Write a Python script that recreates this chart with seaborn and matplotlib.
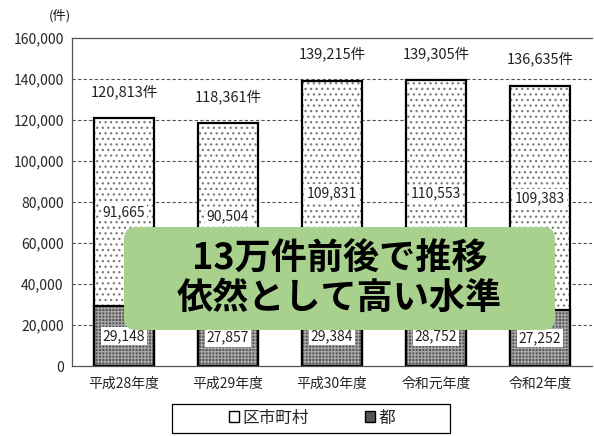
import matplotlib
matplotlib.use("Agg")
import matplotlib.pyplot as plt
import seaborn as sns
import pandas as pd
from matplotlib.patches import Patch, FancyBboxPatch, Rectangle

categories = ["平成28年度", "平成29年度", "平成30年度", "令和元年度", "令和2年度"]
to_values = [29148, 27857, 29384, 28752, 27252]            # 都
kushi_values = [91665, 90504, 109831, 110553, 109383]      # 区市町村
totals = [a + b for a, b in zip(to_values, kushi_values)]
yticks = [0, 20000, 40000, 60000, 80000, 100000, 120000, 140000, 160000]

sns.set_theme(style="white")
plt.rcParams["font.family"] = ["Noto Sans CJK JP", "DejaVu Sans"]
plt.rcParams["hatch.linewidth"] = 0.9

df = pd.DataFrame({"cat": categories, "to": to_values, "kushi": kushi_values, "total": totals})
n = len(categories)
W = 0.57

fig = plt.figure(figsize=(5.94, 4.36), dpi=100)
ax = fig.add_axes([72/594, 1-366/436, (592-72)/594, (366-38)/436])

# fills with hatching (hatch colour = edgecolor, so no outline here)
sns.barplot(data=df, x="cat", y="total", ax=ax, color="white", width=W,
            edgecolor="#7a7a7a", linewidth=0, saturation=1)
for p in ax.patches[:n]:
    p.set_hatch("...")
sns.barplot(data=df, x="cat", y="to", ax=ax, color="#555555", width=W,
            edgecolor="#a8a8a8", linewidth=0, saturation=1)
for p in ax.patches[n:2*n]:
    p.set_hatch("+++++")
# outlines
sns.barplot(data=df, x="cat", y="total", ax=ax, fill=False, width=W,
            edgecolor="black", linewidth=1.6)
sns.barplot(data=df, x="cat", y="to", ax=ax, fill=False, width=W,
            edgecolor="black", linewidth=1.6)

ax.set_ylim(0, 160000)
ax.set_xlim(-0.5, n - 0.5)
ax.set_yticks(yticks)
ax.set_yticklabels([f"{v:,}" for v in yticks], fontsize=10)
ax.set_xticks(range(n))
ax.set_xticklabels(categories, fontsize=10)
ax.set_xticks([i + 0.5 for i in range(n - 1)], minor=True)
ax.tick_params(axis="x", which="major", length=0, pad=8)
ax.tick_params(axis="x", which="minor", length=4, direction="in", color="black", width=0.8)
ax.tick_params(axis="y", length=0, pad=6)
ax.set_xlabel("")
ax.set_ylabel("")
for v in yticks[1:-1]:
    ax.axhline(v, color="#555555", linestyle=(0, (3, 2)), linewidth=0.8, zorder=0)
for s in ["left", "top", "bottom"]:
    ax.spines[s].set_color("#555555")
    ax.spines[s].set_linewidth(0.9)
ax.spines["right"].set_visible(False)

box = dict(facecolor="white", edgecolor="none", pad=1.5)
for i in range(n):
    ax.text(i, to_values[i] / 2, f"{to_values[i]:,}", ha="center", va="center",
            fontsize=10, bbox=box, color="#222222", zorder=5)
    ax.text(i, to_values[i] + kushi_values[i] / 2, f"{kushi_values[i]:,}", ha="center",
            va="center", fontsize=10, bbox=box, color="#222222", zorder=5)
    ax.annotate(f"{totals[i]:,}件", (i, totals[i]), xytext=(0, 14), textcoords="offset points",
                ha="center", va="bottom", fontsize=10.5, color="#222222")

fig.text(60/594, 1-16/436, "(件)", ha="center", va="center", fontsize=9.5, color="#222222")

handles = [Patch(facecolor="white", edgecolor="black", label="区市町村"),
           Patch(facecolor="#555555", edgecolor="black", label="都")]
leg = fig.legend(handles=handles, loc="center", bbox_to_anchor=(312/594, 1-418/436), ncol=2,
                 frameon=False, fontsize=12, handlelength=0.6, handleheight=0.6,
                 handletextpad=0.2, columnspacing=3.4, borderpad=0.3, borderaxespad=0)
# legend frame
fig.patches.append(Rectangle((172/594, 1-433/436), 278/594, 29/436, transform=fig.transFigure,
                             facecolor="none", edgecolor="black", linewidth=0.9))

gbox = FancyBboxPatch((1.24, 1.06), 4.31, 1.03, boxstyle="round,pad=0,rounding_size=0.12",
                      transform=fig.dpi_scale_trans, facecolor="#a9d18e", edgecolor="none",
                      zorder=10)
fig.patches.append(gbox)
fig.text(339.5/594, 1-278/436, "13万件前後で推移\n依然として高い水準", ha="center", va="center",
         fontsize=26, fontweight="bold", linespacing=1.1, color="black", zorder=11)

fig.savefig("out.png", dpi=100)
